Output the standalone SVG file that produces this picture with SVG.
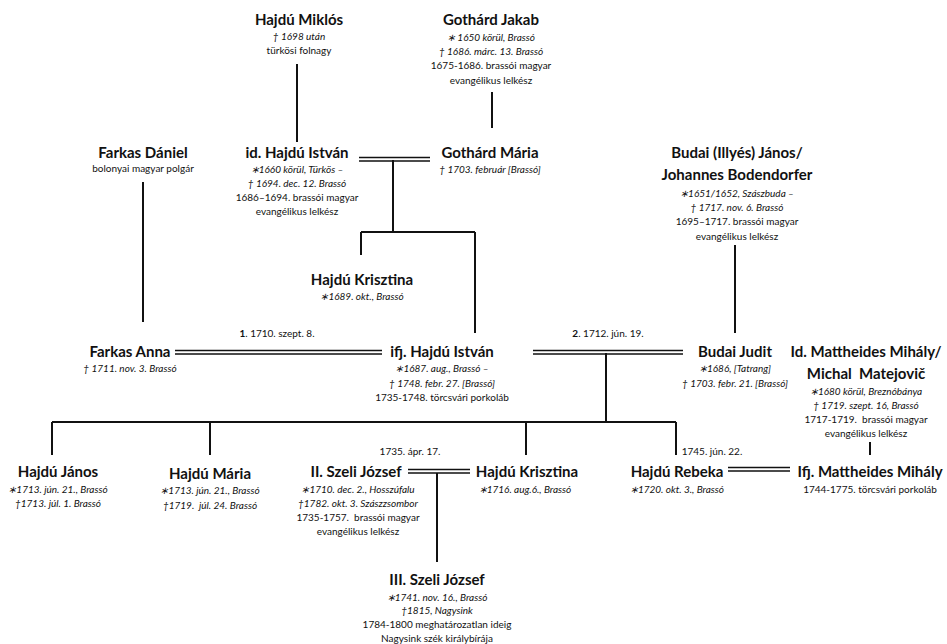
<svg xmlns="http://www.w3.org/2000/svg" width="947" height="644" viewBox="0 0 947 644">
<style>
text{font-family:Lato,"Open Sans","Liberation Sans",sans-serif;text-anchor:middle;fill:#111}
.t{font-size:15px;font-weight:bold}
.i{font-size:10px;font-style:italic}
.p{font-size:10px}
.m{font-size:10px}
.ln{stroke:#111;stroke-width:2;fill:none}
.dl{stroke:#111;stroke-width:1.4;fill:none}
</style>
<rect width="947" height="644" fill="#fff"/>
<g id="connectors">
<path class="ln" d="M297,64V142"/>
<path class="ln" d="M492,92V128"/>
<path class="dl" d="M359,157.5H430M359,161H430"/>
<path class="ln" d="M393,160V232M361,232H475M361,232V255M475,232V333"/>
<path class="ln" d="M143,182V322"/>
<path class="ln" d="M735,245V333"/>
<path class="dl" d="M175,350.5H382M175,354H382"/>
<path class="dl" d="M533,350.5H683M533,354H683"/>
<path class="ln" d="M606,353V422M52,422H676M52,422V455M210,422V455M526,422V455M676,422V455"/>
<path class="ln" d="M870,442V455"/>
<path class="dl" d="M408,469.5H470M408,473H470"/>
<path class="ln" d="M437,473V562"/>
<path class="dl" d="M728,467.5H790M728,471H790"/>
</g>
<g id="hajdu-miklos">
<text class="t" x="299" y="25">Hajdú Miklós</text>
<text class="i" x="299" y="40">† 1698 után</text>
<text class="p" x="299" y="54">türkösi folnagy</text>
</g>
<g id="gothard-jakab">
<text class="t" x="491" y="25">Gothárd Jakab</text>
<text class="i" x="491" y="41">∗ 1650  körül, Brassó</text>
<text class="i" x="491" y="55">† 1686. márc. 13. Brassó</text>
<text class="p" x="491" y="69">1675-1686. brassói magyar</text>
<text class="p" x="491" y="84">evangélikus lelkész</text>
</g>
<g id="farkas-daniel">
<text class="t" x="143" y="158">Farkas Dániel</text>
<text class="p" x="143" y="172">bolonyai magyar polgár</text>
</g>
<g id="id-hajdu-istvan">
<text class="t" x="297" y="158">id. Hajdú István</text>
<text class="i" x="297" y="173">∗1660 körül, Türkös –</text>
<text class="i" x="297" y="187">† 1694. dec. 12. Brassó</text>
<text class="p" x="297" y="201">1686–1694. brassói magyar</text>
<text class="p" x="297" y="215">evangélikus lelkész</text>
</g>
<g id="gothard-maria">
<text class="t" x="490" y="158">Gothárd Mária</text>
<text class="i" x="490" y="173">† 1703. február [Brassó]</text>
</g>
<g id="budai-janos">
<text class="t" x="737" y="158">Budai (Illyés) János/</text>
<text class="t" x="737" y="180">Johannes Bodendorfer</text>
<text class="i" x="737" y="197">∗1651/1652, Szászbuda –</text>
<text class="i" x="737" y="211">† 1717. nov. 6. Brassó</text>
<text class="p" x="737" y="225">1695–1717. brassói magyar</text>
<text class="p" x="737" y="240">evangélikus lelkész</text>
</g>
<g id="hajdu-krisztina-1">
<text class="t" x="362" y="285">Hajdú Krisztina</text>
<text class="i" x="362" y="300">∗1689. okt., Brassó</text>
</g>
<g id="farkas-anna">
<text class="t" x="130" y="357">Farkas Anna</text>
<text class="i" x="130" y="372">† 1711. nov. 3. Brassó</text>
</g>
<text class="m" x="277" y="337"><tspan font-weight="bold">1</tspan>. 1710. szept. 8.</text>
<text class="m" x="608" y="337"><tspan font-weight="bold">2</tspan>. 1712. jún. 19.</text>
<g id="ifj-hajdu-istvan">
<text class="t" x="442" y="357">ifj. Hajdú István</text>
<text class="i" x="442" y="372">∗1687. aug., Brassó –</text>
<text class="i" x="442" y="387">† 1748. febr. 27. [Brassó]</text>
<text class="p" x="442" y="401">1735-1748. törcsvári porkoláb</text>
</g>
<g id="budai-judit">
<text class="t" x="735" y="357">Budai Judit</text>
<text class="i" x="735" y="372">∗1686, [Tatrang]</text>
<text class="i" x="735" y="387">† 1703. febr. 21. [Brassó]</text>
</g>
<g id="id-mattheides">
<text class="t" x="866" y="357">Id. Mattheides Mihály/</text>
<text class="t" x="866" y="379" xml:space="preserve">Michal  Matejovič</text>
<text class="i" x="866" y="395">∗1680 körül, Breznóbánya</text>
<text class="i" x="866" y="409">† 1719. szept. 16, Brassó</text>
<text class="p" x="866" y="423" xml:space="preserve">1717-1719.  brassói magyar</text>
<text class="p" x="866" y="437">evangélikus lelkész</text>
</g>
<g id="hajdu-janos">
<text class="t" x="58" y="477">Hajdú János</text>
<text class="i" x="58" y="493">∗1713. jún. 21., Brassó</text>
<text class="i" x="58" y="507">†1713. júl. 1. Brassó</text>
</g>
<g id="hajdu-maria">
<text class="t" x="210" y="479">Hajdú Mária</text>
<text class="i" x="210" y="494">∗1713. jún. 21., Brassó</text>
<text class="i" x="210" y="509" xml:space="preserve">†1719.  júl. 24. Brassó</text>
</g>
<text class="m" x="410" y="455">1735. ápr. 17.</text>
<g id="ii-szeli-jozsef">
<text class="t" x="356" y="477">II. Szeli József</text>
<text class="i" x="358" y="493">∗1710. dec. 2., Hosszúfalu</text>
<text class="i" x="358" y="507">†1782. okt. 3. Szászzsombor</text>
<text class="p" x="358" y="521" xml:space="preserve">1735-1757.  brassói magyar</text>
<text class="p" x="358" y="535">evangélikus lelkész</text>
</g>
<g id="hajdu-krisztina-2">
<text class="t" x="527" y="477">Hajdú Krisztina</text>
<text class="i" x="525" y="493">∗1716. aug.6., Brassó</text>
</g>
<g id="hajdu-rebeka">
<text class="t" x="677" y="477">Hajdú Rebeka</text>
<text class="i" x="677" y="493">∗1720. okt. 3., Brassó</text>
</g>
<text class="m" x="712" y="455">1745. jún. 22.</text>
<g id="ifj-mattheides">
<text class="t" x="870" y="477">Ifj. Mattheides Mihály</text>
<text class="p" x="870" y="493">1744-1775. törcsvári porkoláb</text>
</g>
<g id="iii-szeli-jozsef">
<text class="t" x="437" y="585">III. Szeli József</text>
<text class="i" x="437" y="601">∗1741. nov. 16., Brassó</text>
<text class="i" x="437" y="614">†1815, Nagysink</text>
<text class="p" x="437" y="628">1784-1800 meghatározatlan ideig</text>
<text class="p" x="437" y="642">Nagysink szék királybírája</text>
</g>
</svg>
